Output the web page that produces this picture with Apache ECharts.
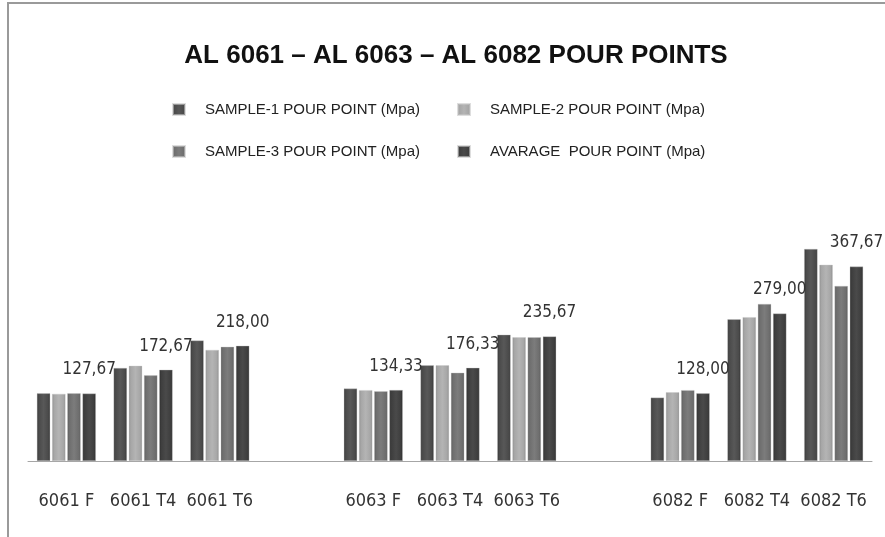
<!DOCTYPE html>
<html>
<head>
<meta charset="utf-8">
<script src="https://cdn.jsdelivr.net/npm/echarts@6/dist/echarts.min.js"></script>
<style>
html,body{margin:0;padding:0;background:#fff;}
#chart{width:885px;height:537px;}
</style>
</head>
<body>
<div id="chart"></div>
<script>
const categories = ['6061 F','6061 T4','6061 T6','','6063 F','6063 T4','6063 T6','','6082 F','6082 T4','6082 T6'];
const seriesNames = ['SAMPLE-1 POUR POINT (Mpa)','SAMPLE-2 POUR POINT (Mpa)','SAMPLE-3 POUR POINT (Mpa)','AVARAGE  POUR POINT (Mpa)'];
const sample1 = [128,176,228,null,137,181,239,null,120,268,401];
const sample2 = [127,180,210,null,134,181,234,null,130,272,371];
const sample3 = [128,162,216,null,132,167,234,null,134,297,331];
const average = [127.67,172.67,218.00,null,134.33,176.33,235.67,null,128.00,279.00,367.67];

function grad(edge, mid, hi){
  return {type:'linear',x:0,y:0,x2:1,y2:0,colorStops:[
    {offset:0,color:edge},{offset:0.15,color:mid},{offset:0.5,color:hi},{offset:0.85,color:mid},{offset:1,color:edge}]};
}
const colors = [
  grad('#333333','#4a4a4a','#585858'),
  grad('#8c8c8c','#a6a6a6','#b4b4b4'),
  grad('#5a5a5a','#6e6e6e','#7c7c7c'),
  grad('#2c2c2c','#3e3e3e','#4a4a4a')
];
const values = [sample1, sample2, sample3, average];

const chart = echarts.init(document.getElementById('chart'));
const legendText = {fontFamily:'Liberation Sans, Arial, sans-serif', fontSize:15, color:'#222', padding:[0,0,0,15]};
const legendPos = [[172,102],[457,102],[172,144],[457,144]];
const narrow = 'DejaVu Sans Condensed, Liberation Sans Narrow, sans-serif';
const option = {
  animation:false,
  backgroundColor:'#ffffff',
  title:{
    text:'AL 6061 – AL 6063 – AL 6082 POUR POINTS',
    left:456, textAlign:'center', top:43, padding:0,
    textStyle:{fontFamily:'Liberation Sans, Arial, sans-serif', fontWeight:'bold', fontSize:26, color:'#111'}
  },
  legend: seriesNames.map((n,i)=>({
    data:[n], left:legendPos[i][0], top:legendPos[i][1], padding:0,
    icon:'rect', itemWidth:12, itemHeight:11, textStyle:legendText
  })),
  grid:{left:28, right:13, top:223, bottom:76, containLabel:false},
  xAxis:{
    type:'category', data:categories,
    axisLine:{lineStyle:{color:'#a6a6a6', width:1}},
    axisTick:{show:false},
    axisLabel:{interval:0, margin:31, fontFamily:narrow, fontSize:18, color:'#333'}
  },
  yAxis:{type:'value', min:0, max:450, show:false, splitLine:{show:false}},
  series: seriesNames.map((n,i)=>({
    name:n, type:'bar', data:values[i],
    barCategoryGap:'23%', barGap:'13%',
    itemStyle:{color:colors[i], borderColor:'rgba(200,200,200,0.6)', borderWidth:0.6},
    label: i===3 ? {
      show:true, position:'top', distance:15,
      formatter:p=>p.value==null?'':Number(p.value).toFixed(2).replace('.',','),
      fontFamily:narrow, fontSize:17, color:'#333'
    } : {show:false}
  })),
  graphic:[
    {type:'line', shape:{x1:7,y1:3,x2:885,y2:3}, style:{stroke:'#9a9a9a', lineWidth:2}, silent:true},
    {type:'line', shape:{x1:8,y1:3,x2:8,y2:537}, style:{stroke:'#9a9a9a', lineWidth:2}, silent:true}
  ]
};
chart.setOption(option);
</script>
</body>
</html>
